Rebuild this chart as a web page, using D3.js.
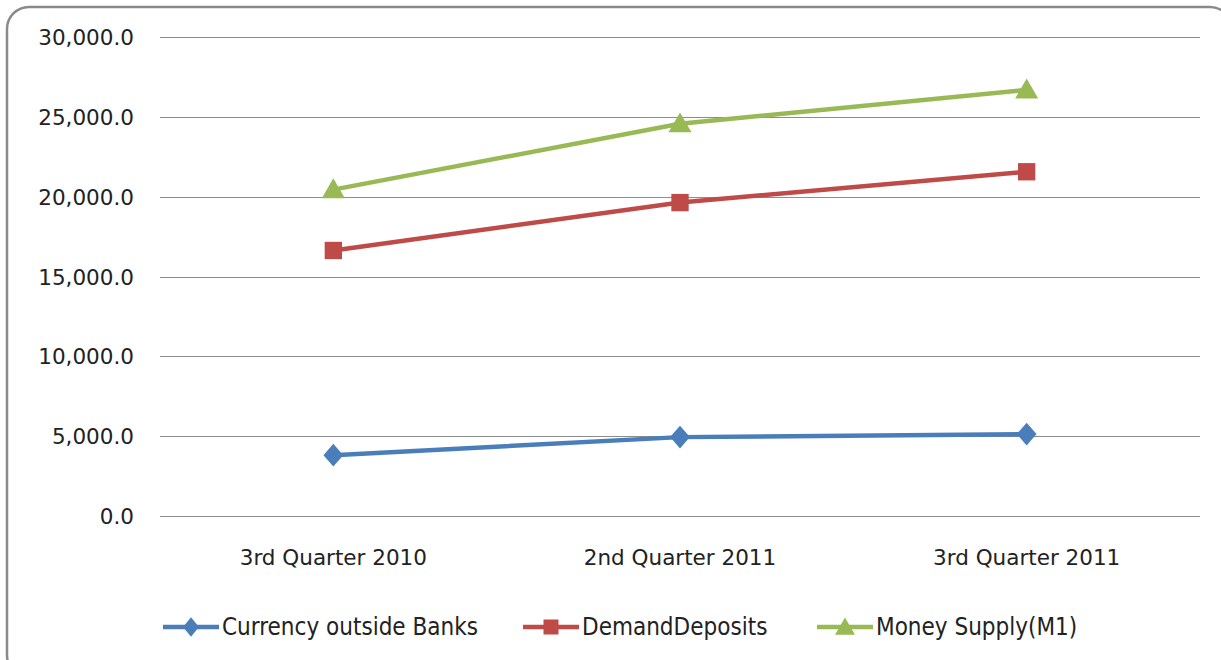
<!DOCTYPE html>
<html>
<head>
<meta charset="utf-8">
<script src="https://cdn.jsdelivr.net/npm/d3@7"></script>
<style>
  body { margin: 0; background: #fff; }
  svg { display: block; }
</style>
</head>
<body>
<svg id="grafico"></svg>
<script>
// dados
let quarters = ["3rd Quarter 2010", "2nd Quarter 2011", "3rd Quarter 2011"];
let currency = [3810, 4940, 5130];
let demandDeposits = [16630, 19630, 21560];
let moneySupply = [20440, 24570, 26690];
let seriesNames = ["Currency outside Banks", "DemandDeposits", "Money Supply(M1)"];
let yTicks = [0, 5000, 10000, 15000, 20000, 25000, 30000];

let width = 1221, height = 660;
let svg = d3.select("#grafico").attr("width", width).attr("height", height);

// moldura arredondada (cortada embaixo e à direita)
svg.append("rect")
  .attr("x", 7).attr("y", 7)
  .attr("width", 1225).attr("height", 670)
  .attr("rx", 22)
  .attr("fill", "#fff")
  .attr("stroke", "#8a8a8a")
  .attr("stroke-width", 2.5);

// título quase todo fora da imagem, como na referência
svg.append("text")
  .attr("x", 626).attr("y", -3)
  .attr("text-anchor", "middle")
  .attr("font-family", "DejaVu Sans")
  .attr("font-size", 20)
  .attr("fill", "#333")
  .text("(In Million Birr)");

let x = d3.scaleBand().domain(quarters).range([160, 1200]);
let y = d3.scaleLinear().domain([0, 30000]).range([516, 37]);

// linhas de grade
svg.append("g")
  .selectAll("line")
  .data(yTicks)
  .enter().append("line")
  .attr("x1", 160).attr("x2", 1200)
  .attr("y1", d => Math.round(y(d)) + 0.5)
  .attr("y2", d => Math.round(y(d)) + 0.5)
  .attr("stroke", "#8c8c8c")
  .attr("stroke-width", 1);

// eixo y
let eixoY = svg.append("g")
  .attr("transform", "translate(134,0)")
  .call(d3.axisLeft(y).tickValues(yTicks).tickSize(0).tickPadding(0)
    .tickFormat(d => d3.format(",.1f")(d)));
eixoY.select(".domain").remove();
eixoY.selectAll("text")
  .attr("font-family", "DejaVu Sans")
  .attr("font-size", 21.5)
  .attr("fill", "#222")
  .attr("dy", "0.35em");

// eixo x
let eixoX = svg.append("g")
  .attr("transform", "translate(0,516)")
  .call(d3.axisBottom(x).tickSize(0).tickPadding(0));
eixoX.select(".domain").remove();
eixoX.selectAll("text")
  .attr("font-family", "DejaVu Sans")
  .attr("font-size", 21.5)
  .attr("fill", "#222")
  .attr("y", 49)
  .attr("dy", 0);

let series = [
  { name: seriesNames[0], values: currency, color: "#4a7ebb", marker: d3.symbolDiamond, size: 150, legendX: 163 },
  { name: seriesNames[1], values: demandDeposits, color: "#be4b48", marker: d3.symbolSquare, size: 300, legendX: 523 },
  { name: seriesNames[2], values: moneySupply, color: "#98b954", marker: d3.symbolTriangle, size: 230, legendX: 817 }
];

let linha = d3.line()
  .x((d, i) => x(quarters[i]) + x.bandwidth() / 2)
  .y(d => y(d));

series.forEach(function(s){
  svg.append("path")
    .attr("d", linha(s.values))
    .attr("fill", "none")
    .attr("stroke", s.color)
    .attr("stroke-width", 4.5);

  svg.append("g")
    .selectAll("path")
    .data(s.values)
    .enter().append("path")
    .attr("d", d3.symbol().type(s.marker).size(s.size))
    .attr("transform", (d, i) => {
      let dy = s.marker === d3.symbolTriangle ? 2 : 0;
      return "translate(" + (x(quarters[i]) + x.bandwidth() / 2) + "," + (y(d) + dy) + ")" +
        (s.marker === d3.symbolDiamond ? " scale(1.5,1)" : "");
    })
    .attr("fill", s.color);

  // legenda
  let leg = svg.append("g").attr("transform", "translate(" + s.legendX + ",627)");
  leg.append("line")
    .attr("x1", 0).attr("x2", 56)
    .attr("stroke", s.color).attr("stroke-width", 4.5);
  leg.append("path")
    .attr("d", d3.symbol().type(s.marker).size(s.size * 0.75))
    .attr("transform", "translate(28," + (s.marker === d3.symbolTriangle ? 2 : 0) + ")" +
      (s.marker === d3.symbolDiamond ? " scale(1.4,1)" : ""))
    .attr("fill", s.color);
  leg.append("text")
    .attr("x", 59).attr("y", 0).attr("dy", "0.35em")
    .attr("font-family", "Liberation Sans Narrow, DejaVu Sans Condensed")
    .attr("font-size", 24)
    .attr("fill", "#222")
    .text(s.name);
});
</script>
</body>
</html>
